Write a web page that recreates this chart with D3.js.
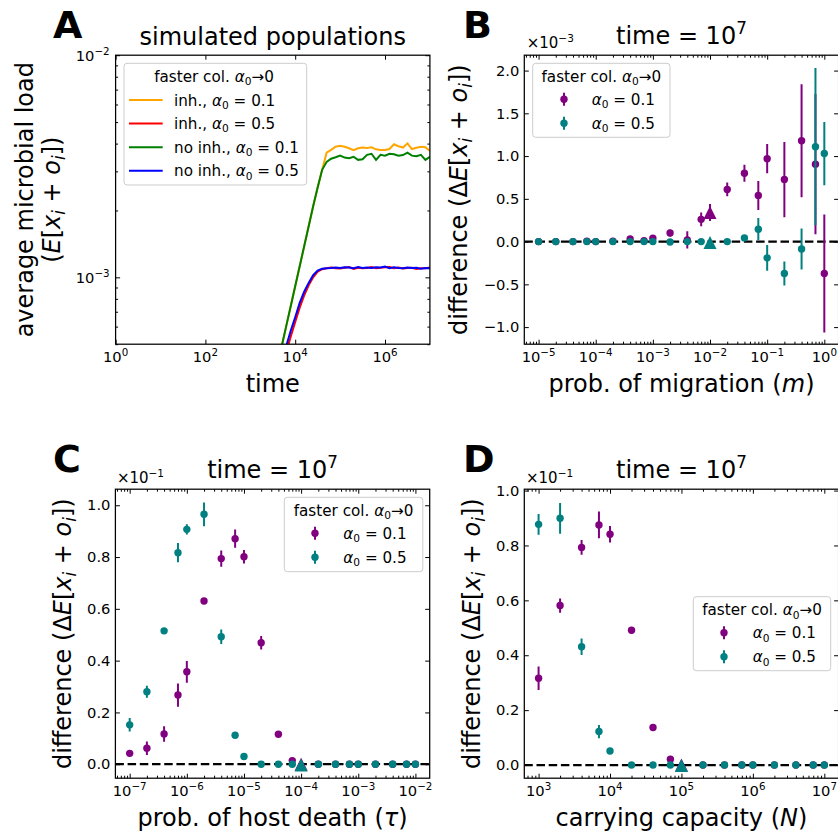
<!DOCTYPE html>
<html>
<head>
<meta charset="utf-8">
<script src="https://cdn.jsdelivr.net/npm/d3@7"></script>
<style>
body { margin: 0; background: #fff; }
svg { font-family: "DejaVu Sans", sans-serif; }
</style>
</head>
<body>
<svg id="fig" width="838" height="834"></svg>
<script>
// ---- panel A : average microbial load vs time (values in units of 1e-3) ----
const timeExp = [3.6,3.7,3.8,3.9,4.0,4.1,4.2,4.3,4.4,4.5,4.6,4.7,4.8,4.9,5.0,5.1,5.2,5.3,5.4,5.5,5.6,5.7,5.8,5.9,6.0,6.1,6.2,6.3,6.4,6.5,6.6,6.7,6.8,6.9,7.0];
const inh01 = [0.398,0.490,0.603,0.741,0.912,1.122,1.380,1.698,2.089,2.54,3.05,3.64,3.75,3.87,3.91,3.87,3.81,3.74,3.81,3.84,3.82,3.85,3.77,3.74,3.74,3.78,3.97,3.89,3.84,4.01,3.78,3.83,3.87,3.85,3.71];
const inh05 = [0.330,0.390,0.460,0.540,0.630,0.730,0.830,0.920,1.000,1.060,1.088,1.098,1.108,1.100,1.096,1.104,1.112,1.092,1.104,1.098,1.101,1.112,1.099,1.103,1.110,1.113,1.100,1.108,1.097,1.101,1.104,1.090,1.098,1.100,1.108];
const noinh01 = [0.398,0.490,0.603,0.741,0.912,1.122,1.380,1.698,2.089,2.54,3.05,3.31,3.42,3.47,3.53,3.46,3.44,3.49,3.38,3.40,3.56,3.60,3.38,3.56,3.53,3.60,3.58,3.53,3.55,3.64,3.53,3.51,3.56,3.38,3.49];
const noinh05 = [0.355,0.417,0.490,0.575,0.661,0.767,0.861,0.944,1.023,1.072,1.094,1.100,1.102,1.108,1.101,1.110,1.106,1.099,1.112,1.103,1.108,1.101,1.110,1.107,1.118,1.100,1.109,1.102,1.098,1.108,1.101,1.103,1.094,1.101,1.099];

// ---- panel B : difference vs migration (units of 1e-3) ----
const migration = [1e-5,2e-5,4e-5,7e-5,1e-4,2e-4,4e-4,7e-4,1e-3,2e-3,4e-3,7e-3,1e-2,2e-2,4e-2,7e-2,0.1,0.2,0.4,0.7,1];
const migDefault = 1e-2;
const migA01 = [0,0,0,0.005,0,0.005,0.03,0.01,0.04,0.10,0.02,0.26,0.34,0.61,0.80,0.54,0.97,0.726,1.18,0.906,-0.373];
const migA01err = [0.005,0.005,0.008,0.01,0.008,0.01,0.015,0.015,0.02,0.04,0.10,0.08,0.1,0.08,0.1,0.17,0.17,0.44,0.66,0.82,0.69];
const migA05 = [0,0,0,0,0,0,0,0,0,-0.005,0,0,-0.012,0,0.043,0.145,-0.19,-0.373,-0.086,1.11,1.03];
const migA05err = [0.003,0.003,0.003,0.003,0.003,0.003,0.003,0.003,0.003,0.005,0.01,0.01,0.01,0.01,0.02,0.13,0.15,0.14,0.24,0.92,0.37];

// ---- panel C : difference vs host death (units of 1e-1) ----
const hostDeath = [1e-7,2e-7,4e-7,7e-7,1e-6,2e-6,4e-6,7e-6,1e-5,2e-5,4e-5,7e-5,1e-4,2e-4,4e-4,7e-4,1e-3,2e-3,4e-3,7e-3,1e-2];
const tauDefault = 1e-4;
const tauA01 = [0.042,0.062,0.117,0.267,0.357,0.630,0.794,0.871,0.801,0.469,0.116,0.014,0,0,0,0,0,0,0,0,0];
const tauA01err = [0.008,0.026,0.03,0.045,0.042,0.008,0.031,0.035,0.026,0.026,0.008,0.006,0.003,0.003,0.003,0.003,0.003,0.003,0.003,0.003,0.003];
const tauA05 = [0.152,0.280,0.515,0.817,0.907,0.965,0.492,0.112,0.030,0,0,0,-0.003,0,0,0,0,0,0,0,0];
const tauA05err = [0.026,0.023,0.008,0.037,0.02,0.046,0.028,0.008,0.008,0.003,0.003,0.003,0.003,0.003,0.003,0.003,0.003,0.003,0.003,0.003,0.003];

// ---- panel D : difference vs carrying capacity (units of 1e-1) ----
const capacity = [1e3,2e3,4e3,7e3,1e4,2e4,4e4,7e4,1e5,2e5,4e5,7e5,1e6,2e6,4e6,7e6,1e7];
const capDefault = 1e5;
const capA01 = [0.316,0.581,0.793,0.875,0.841,0.491,0.137,0.021,0,0,0,0,0,0,0,0,0];
const capA01err = [0.043,0.026,0.027,0.049,0.03,0.012,0.008,0.005,0.003,0.003,0.003,0.003,0.003,0.003,0.003,0.003,0.003];
const capA05 = [0.877,0.899,0.431,0.122,0.051,0,0,0,-0.002,0,0,0,0,0,0,0,0];
const capA05err = [0.038,0.056,0.03,0.024,0.008,0.003,0.003,0.003,0.003,0.003,0.003,0.003,0.003,0.003,0.003,0.003,0.003];

const PURPLE = "#800080", TEAL = "#008080";
const svg = d3.select("#fig");
const W = 314.3, H = 289;
const TICK_FS = 14.7, LAB_FS = 24, LEG_FS = 15.2, OFF_FS = 15;

// text with italic / sub / sup pieces
function rich(text, segs, fs) {
  let shift = 0;
  segs.forEach(seg => {
    let s = seg, st = "";
    if (Array.isArray(seg)) { s = seg[0]; st = seg[1]; }
    let target = 0, size = fs;
    if (st.indexOf("sub") >= 0) { target = 0.22 * fs; size = fs * 0.7; }
    if (st.indexOf("sup") >= 0) { target = -0.42 * fs; size = fs * 0.7; }
    const t = text.append("tspan").text(s).attr("font-size", size).attr("dy", target - shift);
    if (st[0] === "i") t.attr("font-style", "italic");
    shift = target;
  });
}
function addText(x, y, segs, fs, opts) {
  opts = opts || {};
  const t = svg.append("text").attr("x", x).attr("y", y).attr("font-size", fs).attr("fill", "#000");
  if (opts.anchor) t.attr("text-anchor", opts.anchor);
  if (opts.weight) t.attr("font-weight", opts.weight);
  if (opts.rotate) t.attr("transform", `rotate(-90,${x},${y})`);
  rich(t, typeof segs === "string" ? [segs] : segs, fs);
  return t;
}
function minorLog(lo, hi) {
  const out = [];
  for (let d = Math.floor(Math.log10(lo)) ; d <= Math.ceil(Math.log10(hi)); d++)
    for (let k = 2; k <= 9; k++) { const v = k * Math.pow(10, d); if (v >= lo && v <= hi) out.push(v); }
  return out;
}
function ticks(g, gen, scale, vals, size, tr) {
  g.append("g").attr("transform", tr)
    .call(gen(scale).tickValues(vals).tickSize(-size).tickFormat(""))
    .call(a => a.select(".domain").remove())
    .selectAll("line").attr("stroke", "#000").attr("stroke-width", 1);
}
function frame(x0, y0, xs, ys, xMaj, xMin, yMaj, yMin) {
  const g = svg.append("g");
  ticks(g, d3.axisBottom, xs, xMaj, 4.5, `translate(0,${y0 + H})`);
  ticks(g, d3.axisTop, xs, xMaj, 4.5, `translate(0,${y0})`);
  ticks(g, d3.axisBottom, xs, xMin, 2.5, `translate(0,${y0 + H})`);
  ticks(g, d3.axisTop, xs, xMin, 2.5, `translate(0,${y0})`);
  ticks(g, d3.axisLeft, ys, yMaj, 4.5, `translate(${x0},0)`);
  ticks(g, d3.axisRight, ys, yMaj, 4.5, `translate(${x0 + W},0)`);
  ticks(g, d3.axisLeft, ys, yMin, 2.5, `translate(${x0},0)`);
  ticks(g, d3.axisRight, ys, yMin, 2.5, `translate(${x0 + W},0)`);
  svg.append("rect").attr("x", x0).attr("y", y0).attr("width", W).attr("height", H)
    .attr("fill", "none").attr("stroke", "#000").attr("stroke-width", 1.25);
}
function logLabels(xs, vals, y) {
  vals.forEach(v => {
    const e = Math.round(Math.log10(v));
    addText(xs(v), y, ["10", [String(e).replace("-", "\u2212"), "sup"]], TICK_FS, { anchor: "middle" });
  });
}
function linLabels(ys, vals, x) {
  vals.forEach(v => addText(x, ys(v) + 5.2, d3.format(".1f")(v).replace("-", "\u2212"), TICK_FS, { anchor: "end" }));
}
function clip(id, x0, y0) {
  svg.append("clipPath").attr("id", id).append("rect")
    .attr("x", x0).attr("y", y0).attr("width", W).attr("height", H);
}
function zeroLine(xs, ys, id) {
  svg.append("line").attr("clip-path", `url(#${id})`)
    .attr("x1", xs.range()[0]).attr("x2", xs.range()[1])
    .attr("y1", ys(0)).attr("y2", ys(0))
    .attr("stroke", "#000").attr("stroke-width", 2.2).attr("stroke-dasharray", "8.5,3.7");
}
// matplotlib-like '^' marker: as wide as it is tall
const triangle = s => `M0,${-s / 2}L${s / 2},${s / 2}L${-s / 2},${s / 2}Z`;
function errSeries(xs, ys, xv, mean, err, color, special, id) {
  const g = svg.append("g").attr("clip-path", `url(#${id})`);
  const pts = xv.map((x, i) => ({ x: x, m: mean[i], e: err[i] }));
  g.selectAll("line.eb").data(pts).enter().append("line")
    .attr("x1", d => xs(d.x)).attr("x2", d => xs(d.x))
    .attr("y1", d => ys(d.m - d.e)).attr("y2", d => ys(d.m + d.e))
    .attr("stroke", color).attr("stroke-width", 2);
  g.selectAll("circle").data(pts.filter(d => d.x !== special)).enter().append("circle")
    .attr("cx", d => xs(d.x)).attr("cy", d => ys(d.m)).attr("r", 3.7).attr("fill", color);
  g.selectAll("path.tri").data(pts.filter(d => d.x === special)).enter().append("path")
    .attr("d", triangle(13))
    .attr("transform", d => `translate(${xs(d.x)},${ys(d.m)})`).attr("fill", color);
}
function errLegend(x, y, w, h, tx, mx, rows) {
  svg.append("rect").attr("x", x).attr("y", y).attr("width", w).attr("height", h).attr("rx", 3)
    .attr("fill", "#fff").attr("fill-opacity", 0.8).attr("stroke", "#cccccc").attr("stroke-width", 1);
  addText(x + w / 2, y + 18.5, ["faster col. ", ["\u03b1", "i"], ["0", "sub"], "\u21920"], LEG_FS, { anchor: "middle" });
  rows.forEach((r, i) => {
    const cy = y + 36 + i * 24;
    svg.append("line").attr("x1", mx).attr("x2", mx).attr("y1", cy - 6.5).attr("y2", cy + 6.5)
      .attr("stroke", r.color).attr("stroke-width", 2);
    svg.append("circle").attr("cx", mx).attr("cy", cy).attr("r", 3.7).attr("fill", r.color);
    addText(tx, cy + 5.5, [["\u03b1", "i"], ["0", "sub"], " = " + r.v], LEG_FS);
  });
}
const yLabel = ["difference (\u0394", ["E", "i"], "[", ["x", "i"], ["i", "isub"], " + ", ["o", "i"], ["i", "isub"], "])"];

// ================= panel A =================
{
  const x0 = 115.6, y0 = 55.2;
  const xs = d3.scaleLog().domain([1, 1e7]).range([x0, x0 + W]);
  const ys = d3.scaleLog().domain([5e-4, 1e-2]).range([y0 + H, y0]);
  clip("clipA", x0, y0);
  const line = d3.line().x(d => xs(d[0])).y(d => ys(d[1]));
  const series = [[inh01, "#ffa500"], [inh05, "#ff0000"], [noinh01, "#008000"], [noinh05, "#0000ff"]];
  series.forEach(s => {
    svg.append("path").attr("clip-path", "url(#clipA)")
      .datum(timeExp.map((e, i) => [Math.pow(10, e), s[0][i] * 1e-3]))
      .attr("d", line).attr("fill", "none").attr("stroke", s[1]).attr("stroke-width", 2);
  });
  frame(x0, y0, xs, ys, [1, 1e2, 1e4, 1e6], [], [1e-3, 1e-2], minorLog(5e-4, 1e-2).filter(v => Math.abs(v - 1e-3) > 1e-9));
  logLabels(xs, [1, 1e2, 1e4, 1e6], y0 + H + 17.5);
  [1e-3, 1e-2].forEach(v => addText(x0 - 6, ys(v) + 5.5, ["10", [String(Math.round(Math.log10(v))).replace("-", "\u2212"), "sup"]], TICK_FS, { anchor: "end" }));
  // legend
  const lx = 124, ly = 63.3;
  svg.append("rect").attr("x", lx).attr("y", ly).attr("width", 182.7).attr("height", 121.7).attr("rx", 3)
    .attr("fill", "#fff").attr("fill-opacity", 0.8).attr("stroke", "#cccccc");
  addText(lx + 90, ly + 18.5, ["faster col. ", ["\u03b1", "i"], ["0", "sub"], "\u21920"], LEG_FS, { anchor: "middle" });
  const legRows = [["inh., ", "0.1", "#ffa500"], ["inh., ", "0.5", "#ff0000"], ["no inh., ", "0.1", "#008000"], ["no inh., ", "0.5", "#0000ff"]];
  legRows.forEach((r, i) => {
    const cy = ly + 36.7 + i * 23.6;
    svg.append("line").attr("x1", 129).attr("x2", 162.7).attr("y1", cy).attr("y2", cy).attr("stroke", r[2]).attr("stroke-width", 2);
    addText(174, cy + 5.5, [r[0], ["\u03b1", "i"], ["0", "sub"], " = " + r[1]], LEG_FS);
  });
  addText(x0 + W / 2, y0 - 10, "simulated populations", LAB_FS, { anchor: "middle" });
  addText(53, 38, "A", 38, { weight: "bold" });
  addText(x0 + W / 2, y0 + H + 47.5, "time", LAB_FS, { anchor: "middle" });
  addText(33.3, y0 + H / 2, "average microbial load", LAB_FS, { anchor: "middle", rotate: true });
  addText(60, y0 + H / 2, ["(", ["E", "i"], "[", ["x", "i"], ["i", "isub"], " + ", ["o", "i"], ["i", "isub"], "])"], LAB_FS, { anchor: "middle", rotate: true });
}

// ================= panel B =================
{
  const x0 = 524.3, y0 = 55.2;
  const xs = d3.scaleLog().domain([Math.pow(10, -5.25), Math.pow(10, 0.25)]).range([x0, x0 + W]);
  const ys = d3.scaleLinear().domain([-1.2, 2.18]).range([y0 + H, y0]);
  const maj = [1e-5, 1e-4, 1e-3, 1e-2, 1e-1, 1];
  clip("clipB", x0, y0);
  zeroLine(xs, ys, "clipB");
  errSeries(xs, ys, migration, migA01, migA01err, PURPLE, migDefault, "clipB");
  errSeries(xs, ys, migration, migA05, migA05err, TEAL, migDefault, "clipB");
  frame(x0, y0, xs, ys, maj, minorLog(xs.domain()[0], xs.domain()[1]), [-1, -0.5, 0, 0.5, 1, 1.5, 2], []);
  logLabels(xs, maj, y0 + H + 17.5);
  linLabels(ys, [-1, -0.5, 0, 0.5, 1, 1.5, 2], x0 - 5);
  addText(x0 + 2.4, y0 - 7, ["\u00d710", ["\u22123", "sup"]], OFF_FS);
  errLegend(532.7, 63.3, 137.3, 74, 591.7, 564, [{ color: PURPLE, v: "0.1" }, { color: TEAL, v: "0.5" }]);
  addText(x0 + W / 2, y0 - 11, ["time = 10", ["7", "sup"]], LAB_FS, { anchor: "middle" });
  addText(463, 38, "B", 38, { weight: "bold" });
  addText(x0 + W / 2, y0 + H + 47.5, ["prob. of migration (", ["m", "i"], ")"], LAB_FS, { anchor: "middle" });
  addText(467, y0 + H / 2, yLabel, LAB_FS, { anchor: "middle", rotate: true });
}

// ================= panel C =================
{
  const x0 = 115.4, y0 = 489.2;
  const xs = d3.scaleLog().domain([Math.pow(10, -7.25), Math.pow(10, -1.75)]).range([x0, x0 + W]);
  const ys = d3.scaleLinear().domain([-0.054, 1.062]).range([y0 + H, y0]);
  const maj = [1e-7, 1e-6, 1e-5, 1e-4, 1e-3, 1e-2];
  clip("clipC", x0, y0);
  zeroLine(xs, ys, "clipC");
  errSeries(xs, ys, hostDeath, tauA01, tauA01err, PURPLE, tauDefault, "clipC");
  errSeries(xs, ys, hostDeath, tauA05, tauA05err, TEAL, tauDefault, "clipC");
  frame(x0, y0, xs, ys, maj, minorLog(xs.domain()[0], xs.domain()[1]), [0, 0.2, 0.4, 0.6, 0.8, 1.0], []);
  logLabels(xs, maj, y0 + H + 17.5);
  linLabels(ys, [0, 0.2, 0.4, 0.6, 0.8, 1.0], x0 - 5);
  addText(x0 + 1.5, y0 - 6, ["\u00d710", ["\u22121", "sup"]], OFF_FS);
  errLegend(284.3, 497.3, 138.5, 74.4, 343.3, 315, [{ color: PURPLE, v: "0.1" }, { color: TEAL, v: "0.5" }]);
  addText(x0 + W / 2, y0 - 11, ["time = 10", ["7", "sup"]], LAB_FS, { anchor: "middle" });
  addText(53, 471.7, "C", 38, { weight: "bold" });
  addText(x0 + W / 2, y0 + H + 47.5, ["prob. of host death (", ["\u03c4", "i"], ")"], LAB_FS, { anchor: "middle" });
  addText(71, y0 + H / 2, yLabel, LAB_FS, { anchor: "middle", rotate: true });
}

// ================= panel D =================
{
  const x0 = 524.3, y0 = 489.2;
  const xs = d3.scaleLog().domain([Math.pow(10, 2.8), Math.pow(10, 7.2)]).range([x0, x0 + W]);
  const ys = d3.scaleLinear().domain([-0.048, 1.005]).range([y0 + H, y0]);
  const maj = [1e3, 1e4, 1e5, 1e6, 1e7];
  clip("clipD", x0, y0);
  zeroLine(xs, ys, "clipD");
  errSeries(xs, ys, capacity, capA01, capA01err, PURPLE, capDefault, "clipD");
  errSeries(xs, ys, capacity, capA05, capA05err, TEAL, capDefault, "clipD");
  frame(x0, y0, xs, ys, maj, minorLog(xs.domain()[0], xs.domain()[1]), [0, 0.2, 0.4, 0.6, 0.8, 1.0], []);
  logLabels(xs, maj, y0 + H + 17.5);
  linLabels(ys, [0, 0.2, 0.4, 0.6, 0.8, 1.0], x0 - 5);
  addText(x0 + 1.7, y0 - 6, ["\u00d710", ["\u22121", "sup"]], OFF_FS);
  errLegend(693.3, 596.7, 137.4, 74, 752.7, 724, [{ color: PURPLE, v: "0.1" }, { color: TEAL, v: "0.5" }]);
  addText(x0 + W / 2, y0 - 11, ["time = 10", ["7", "sup"]], LAB_FS, { anchor: "middle" });
  addText(463, 471.7, "D", 38, { weight: "bold" });
  addText(x0 + W / 2, y0 + H + 47.5, ["carrying capacity (", ["N", "i"], ")"], LAB_FS, { anchor: "middle" });
  addText(480, y0 + H / 2, yLabel, LAB_FS, { anchor: "middle", rotate: true });
}
</script>
</body>
</html>
